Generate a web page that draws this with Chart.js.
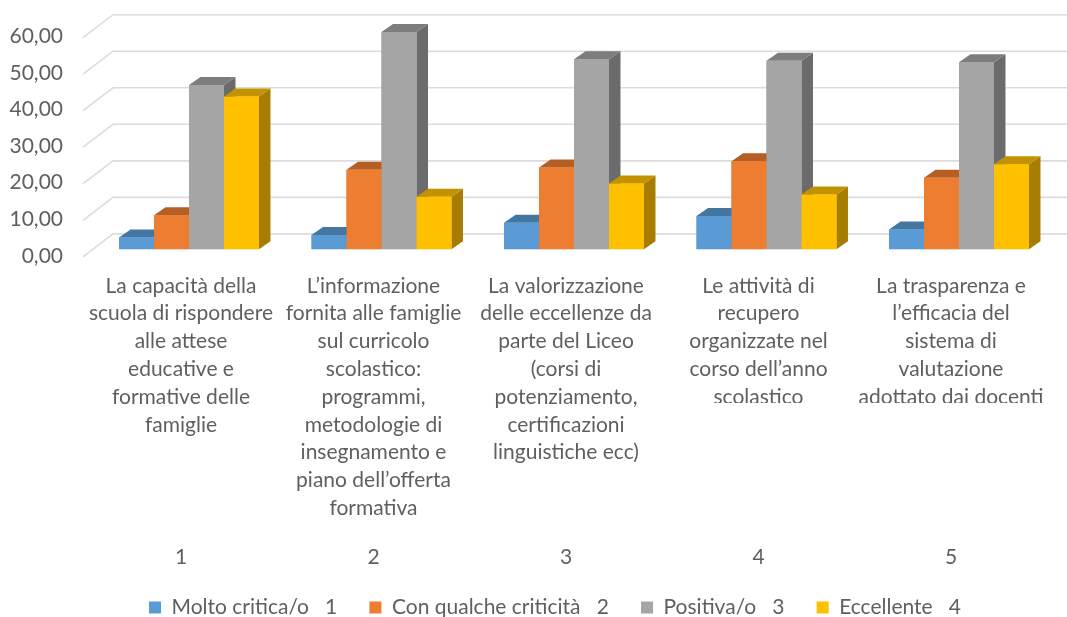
<!DOCTYPE html>
<html>
<head>
<meta charset="utf-8">
<style>html,body{margin:0;padding:0;background:#fff}canvas{display:block}</style>
<script src="https://cdn.jsdelivr.net/npm/chart.js@4"></script>
</head>
<body>
<canvas id="c" width="1067" height="617"></canvas>
<script>
const categories = [
  ["La capacità della","scuola di rispondere","alle attese","educative e","formative delle","famiglie"],
  ["L’informazione","fornita alle famiglie","sul curricolo","scolastico:","programmi,","metodologie di","insegnamento e","piano dell’offerta","formativa"],
  ["La valorizzazione","delle eccellenze da","parte del Liceo","(corsi di","potenziamento,","certificazioni","linguistiche ecc)"],
  ["Le attività di","recupero","organizzate nel","corso dell’anno","scolastico"],
  ["La trasparenza e","l’efficacia del","sistema di","valutazione","adottato dai docenti"]
];
const groupNumbers = ["1","2","3","4","5"];
const seriesNames = ["Molto critica/o   1","Con qualche criticità   2","Positiva/o   3","Eccellente   4"];
const moltoCritica = [3.2,3.9,7.3,9.1,5.4];
const qualcheCriticita = [9.3,21.8,22.4,24.1,19.6];
const positiva = [45.0,59.5,52.0,51.6,51.2];
const eccellente = [41.8,14.4,18.0,15.0,23.3];
const frontColors = ["#5B9BD5","#ED7D31","#A5A5A5","#FFC000"];
const topColors = ["#4476A2","#B55F25","#7D7D7D","#C29200"];
const sideColors = ["#3B6A93","#A05420","#6B6B6B","#A67D00"];

const FONT = "Lato, Carlito, sans-serif";
const TEXT = "#5F5F5F";
const DX = 11.5, DY = 8;       // bar depth
const WALL_X = 30, WALL_Y = 15.4, FRONT_Y = 7.5; // wall offset
const LEGEND_GAP = "      ";

const bars3d = {
  id: "bars3d",
  afterLayout(chart) {
    // let the value labels reach past the narrow axis box
    chart.scales.y.left = 0;
  },
  beforeDatasetsDraw(chart) {
    const {ctx, scales:{y}, chartArea} = chart;
    ctx.save();
    ctx.strokeStyle = "#DCDCDC";
    ctx.lineWidth = 1.6;
    y.ticks.forEach(t => {
      const p = y.getPixelForValue(t.value);
      ctx.beginPath();
      ctx.moveTo(chartArea.left - 9.75, p + FRONT_Y);
      ctx.lineTo(chartArea.left - 9.75 + WALL_X, p - WALL_Y);
      ctx.lineTo(chart.width, p - WALL_Y);
      ctx.stroke();
    });
    ctx.restore();
  },
  afterDatasetsDraw(chart) {
    const {ctx} = chart;
    const n = chart.data.labels.length;
    ctx.save();
    for (let i = 0; i < n; i++) {
      chart.data.datasets.forEach((ds, d) => {
        const bar = chart.getDatasetMeta(d).data[i];
        const l = bar.x - bar.width / 2, r = bar.x + bar.width / 2;
        const t = bar.y, b = bar.base;
        ctx.fillStyle = sideColors[d];
        ctx.beginPath();
        ctx.moveTo(r, t); ctx.lineTo(r + DX, t - DY); ctx.lineTo(r + DX, b - DY); ctx.lineTo(r, b);
        ctx.closePath(); ctx.fill();
        ctx.fillStyle = topColors[d];
        ctx.beginPath();
        ctx.moveTo(l, t); ctx.lineTo(l + DX, t - DY); ctx.lineTo(r + DX, t - DY); ctx.lineTo(r, t);
        ctx.closePath(); ctx.fill();
        bar.draw(ctx);
      });
    }
    ctx.restore();
  },
  afterDraw(chart) {
    // the reference crops the last text line of the two rightmost label blocks
    const {ctx} = chart;
    ctx.save();
    ctx.fillStyle = "#fff";
    ctx.fillRect(660, 403, chart.width - 660, 16);
    ctx.restore();
  }
};

const seriesValues = [moltoCritica, qualcheCriticita, positiva, eccellente];
new Chart(document.getElementById("c"), {
  type: "bar",
  plugins: [bars3d],
  data: {
    labels: categories,
    datasets: seriesNames.map((name, i) => ({
      label: name,
      data: seriesValues[i],
      backgroundColor: frontColors[i],
      borderWidth: 0,
      barPercentage: 1,
      categoryPercentage: 0.727
    }))
  },
  options: {
    responsive: false,
    animation: false,
    maintainAspectRatio: false,
    layout: { padding: { top: 30.1, right: 11.75, left: 54.75, bottom: -11 } },
    scales: {
      y: {
        min: 0, max: 60,
        grid: { display: false, drawTicks: false },
        border: { display: false },
        afterFit(s) { s.width = 38; s.paddingTop = 0; s.paddingBottom = 0; },
        ticks: {
          stepSize: 10,
          padding: 29.75,
          labelOffset: 6.5,
          color: TEXT,
          font: { family: FONT, size: 21 },
          callback: v => v.toFixed(2).replace(".", ",")
        }
      },
      x: {
        weight: 0,
        grid: { display: false, drawTicks: false },
        border: { display: false },
        afterFit(s) { s.height = 285; s.paddingLeft = 0; s.paddingRight = 0; },
        ticks: {
          autoSkip: false, maxRotation: 0, minRotation: 0,
          labelOffset: -8,
          padding: 22.6,
          color: TEXT,
          font: { family: FONT, size: 21, lineHeight: 1.324 }
        }
      },
      x2: {
        type: "category",
        labels: groupNumbers,
        position: "bottom",
        weight: 1,
        offset: true,
        grid: { display: false, drawTicks: false },
        border: { display: false },
        afterFit(s) { s.height = 62.7; s.paddingLeft = 0; s.paddingRight = 0; },
        ticks: {
          labelOffset: -8,
          padding: 10,
          color: TEXT,
          font: { family: FONT, size: 21 }
        }
      }
    },
    plugins: {
      tooltip: { enabled: false },
      legend: {
        position: "bottom",
        labels: {
          boxWidth: 12, boxHeight: 12, padding: 0,
          color: TEXT,
          font: { family: FONT, size: 21 },
          generateLabels(chart) {
            return Chart.defaults.plugins.legend.labels.generateLabels(chart).map((item, i, all) => {
              if (i < all.length - 1) item.text += LEGEND_GAP;
              return item;
            });
          }
        }
      }
    }
  }
});
</script>
</body>
</html>
